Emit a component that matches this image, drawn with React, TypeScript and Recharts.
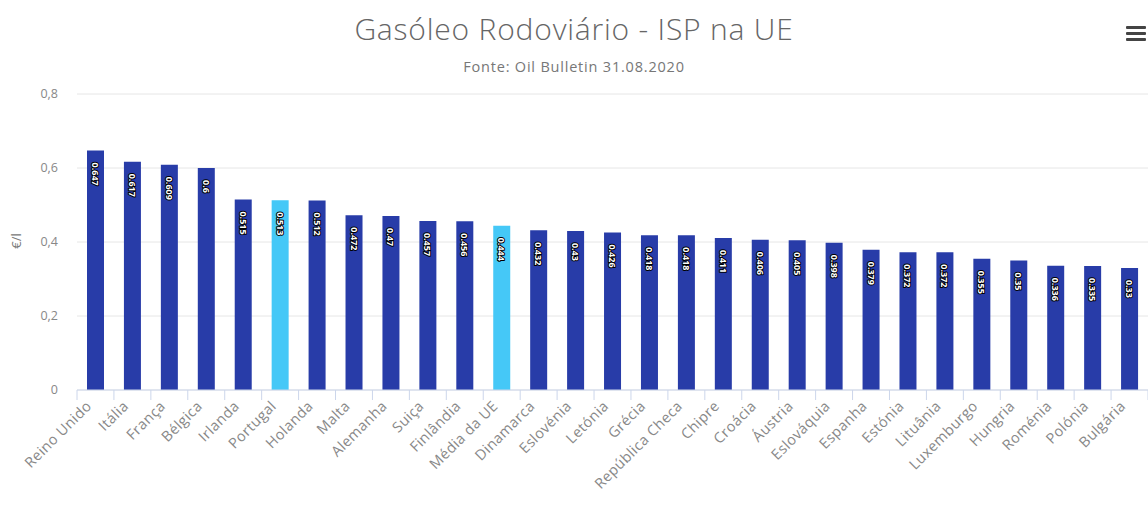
import React from "react"
import { BarChart, Bar, XAxis, YAxis, CartesianGrid, Cell, LabelList } from "recharts"

const countries = [
  "Reino Unido", "Itália", "França", "Bélgica", "Irlanda", "Portugal", "Holanda", "Malta",
  "Alemanha", "Suiça", "Finlândia", "Média da UE", "Dinamarca", "Eslovénia", "Letónia",
  "Grécia", "República Checa", "Chipre", "Croácia", "Áustria", "Eslováquia", "Espanha",
  "Estónia", "Lituânia", "Luxemburgo", "Hungria", "Roménia", "Polónia", "Bulgária",
]

const isp = [
  0.647, 0.617, 0.609, 0.6, 0.515, 0.513, 0.512, 0.472, 0.47, 0.457, 0.456, 0.444, 0.432,
  0.43, 0.426, 0.418, 0.418, 0.411, 0.406, 0.405, 0.398, 0.379, 0.372, 0.372, 0.355, 0.35,
  0.336, 0.335, 0.33,
]

const highlighted = ["Portugal", "Média da UE"]
const yTicks = [0, 0.2, 0.4, 0.6, 0.8]

const W = 1148
const H = 514
const LEFT = 77
const TOP = 94
const BOTTOM = 124
const BAND = (W - LEFT) / countries.length
const FONT = "'Open Sans', sans-serif"

const data = countries.map((name, i) => ({ name, value: isp[i] }))

function XTick(props: any) {
  const { x, y, payload, index } = props
  const tx = x - 3
  const ty = y + 17
  return (
    <g>
      <line x1={x - BAND / 2} x2={x - BAND / 2} y1={y} y2={y + 10} stroke="#ccd6eb" />
      {index === countries.length - 1 && (
        <line x1={x + BAND / 2} x2={x + BAND / 2} y1={y} y2={y + 10} stroke="#ccd6eb" />
      )}
      <text
        x={tx}
        y={ty}
        textAnchor="end"
        fill="#888"
        fontSize={14.5}
        letterSpacing={0.4}
        fontFamily={FONT}
        transform={`rotate(-45, ${tx}, ${ty})`}
      >
        {payload.value}
      </text>
    </g>
  )
}

function ValueLabel(props: any) {
  const { x, y, width, value } = props
  const cx = x + width / 2
  const ty = y + 12
  return (
    <text
      x={cx}
      y={ty}
      transform={`rotate(90, ${cx}, ${ty})`}
      textAnchor="start"
      dominantBaseline="central"
      fill="#fff"
      stroke="#000"
      strokeWidth={2}
      strokeLinejoin="round"
      paintOrder="stroke"
      fontSize={9}
      fontWeight="bold"
      fontFamily={FONT}
    >
      {value}
    </text>
  )
}

export default function App() {
  return (
    <div style={{ position: "absolute", left: 0, top: 0, width: W, height: H, background: "#fff", fontFamily: FONT }}>
      <div style={{ position: "absolute", top: 8, width: W, textAlign: "center", fontSize: 30, fontWeight: 300, letterSpacing: 0.8, color: "#666" }}>
        Gasóleo Rodoviário - ISP na UE
      </div>
      <div style={{ position: "absolute", top: 57, width: W, textAlign: "center", fontSize: 14.5, letterSpacing: 0.8, color: "#777" }}>
        Fonte: Oil Bulletin 31.08.2020
      </div>
      <div style={{ position: "absolute", left: 1126, top: 26, width: 20 }}>
        {[0, 1, 2].map((i) => (
          <div key={i} style={{ height: 3, background: "#444", marginBottom: 3, borderRadius: 1 }} />
        ))}
      </div>
      <div
        style={{
          position: "absolute", left: 8, top: 232, fontSize: 13, color: "#777",
          transform: "rotate(-90deg)", transformOrigin: "center",
        }}
      >
        €/l
      </div>
      <BarChart
        width={W}
        height={H}
        data={data}
        margin={{ top: TOP, right: 0, bottom: 0, left: 0 }}
        barCategoryGap={0}
      >
        <CartesianGrid vertical={false} stroke="#e6e6e6" />
        <XAxis
          dataKey="name"
          interval={0}
          height={BOTTOM}
          tickSize={0}
          tickMargin={0}
          stroke="#ccd6eb"
          tick={<XTick />}
        />
        <YAxis
          width={LEFT}
          domain={[0, 0.8]}
          ticks={yTicks}
          axisLine={false}
          tickLine={false}
          tickSize={0}
          tickMargin={19}
          tick={{ fill: "#888", fontSize: 12.5, fontFamily: FONT }}
          tickFormatter={(v: number) => String(v).replace(".", ",")}
        />
        <Bar dataKey="value" barSize={17} isAnimationActive={false}>
          {data.map((d) => (
            <Cell key={d.name} fill={highlighted.includes(d.name) ? "#45c8f7" : "#283ca8"} />
          ))}
          <LabelList dataKey="value" content={<ValueLabel />} />
        </Bar>
      </BarChart>
    </div>
  )
}
